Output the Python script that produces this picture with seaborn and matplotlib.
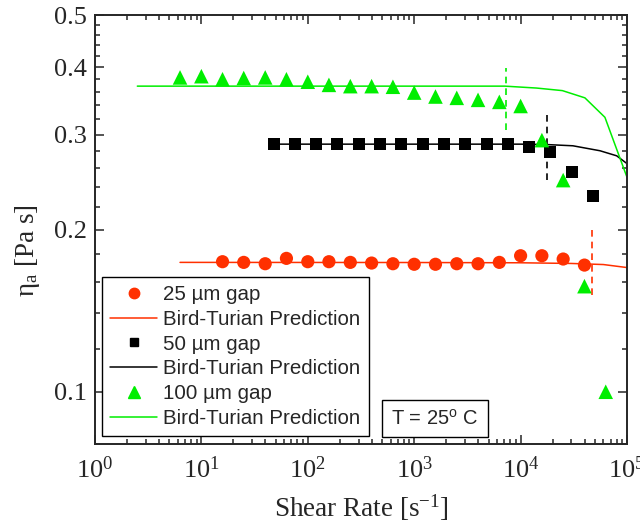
import numpy as np
import matplotlib
matplotlib.use("Agg")
import matplotlib.pyplot as plt
import seaborn as sns
from matplotlib.lines import Line2D
from matplotlib.ticker import FixedLocator, NullFormatter, LogLocator

red_x = [15.8, 25, 39.8, 63, 100, 158, 251, 398, 631, 1000, 1585, 2512,
         3981, 6310, 10000, 15850, 25120, 39810]
red_y = [0.1743, 0.1738, 0.1728, 0.1768, 0.1743, 0.1743, 0.1738, 0.1733,
         0.1728, 0.1724, 0.1724, 0.1728, 0.1728, 0.1738, 0.1788, 0.1788,
         0.1763, 0.1718]

black_x = [48, 76, 120, 190, 302, 479, 759, 1202, 1905, 3020, 4786, 7586,
           12023, 19055, 30200, 47860]
black_y = [0.288, 0.288, 0.288, 0.288, 0.288, 0.288, 0.288, 0.288, 0.288,
           0.288, 0.288, 0.288, 0.285, 0.278, 0.256, 0.231]

green_x = [6.3, 10, 15.8, 25, 39.8, 63, 100, 158, 251, 398, 631, 1000, 1585,
           2512, 3981, 6310, 10000, 15850, 25120, 39810, 63100]
green_y = [0.383, 0.385, 0.380, 0.382, 0.383, 0.380, 0.376, 0.371, 0.369,
           0.369, 0.368, 0.359, 0.353, 0.351, 0.348, 0.345, 0.339, 0.293,
           0.247, 0.157, 0.100]

# Bird-Turian predictions
red_line_x = [6.3, 1000, 10000, 30000, 60000, 100000]
red_line_y = [0.1738, 0.1737, 0.1735, 0.1730, 0.1722, 0.1700]
black_line_x = [48, 1000, 10000, 17600, 31000, 55700, 80000, 100000]
black_line_y = [0.288, 0.288, 0.288, 0.2875, 0.286, 0.280, 0.274, 0.265]
green_line_x = [2.5, 100, 1000, 7100, 14100, 24700, 40200, 62000, 100000]
green_line_y = [0.369, 0.369, 0.369, 0.369, 0.366, 0.362, 0.351, 0.323, 0.250]

# critical shear rate markers (dashed verticals)
red_crit_x, red_crit_y = [47200, 47200], [0.151, 0.200]
black_crit_x, black_crit_y = [17800, 17800], [0.247, 0.326]
green_crit_x, green_crit_y = [7240, 7240], [0.306, 0.398]

labels = ['25 \u00b5m gap', 'Bird-Turian Prediction', '50 \u00b5m gap',
          'Bird-Turian Prediction', '100 \u00b5m gap', 'Bird-Turian Prediction']

RED = '#ff3000'
GREEN = '#00ee00'
BLACK = '#000000'

sns.set_style("ticks")
plt.rcParams['font.family'] = ['Liberation Serif', 'DejaVu Serif']
plt.rcParams['mathtext.fontset'] = 'custom'
plt.rcParams['mathtext.rm'] = 'Liberation Serif'
plt.rcParams['mathtext.it'] = 'Liberation Serif:italic'

fig = plt.figure(figsize=(6.4, 5.27), dpi=100)
ax = fig.add_axes([0.1484, 0.1575, 0.8313, 0.814])
ax.set_xscale('log')
ax.set_yscale('log')

# prediction lines
sns.lineplot(x=red_line_x, y=red_line_y, ax=ax, color=RED, lw=1.1, zorder=2)
sns.lineplot(x=black_line_x, y=black_line_y, ax=ax, color=BLACK, lw=1.1, zorder=2)
sns.lineplot(x=green_line_x, y=green_line_y, ax=ax, color=GREEN, lw=1.1, zorder=2)

# dashed critical lines
ax.plot(red_crit_x, red_crit_y, color=RED, ls=(0, (4, 3)), lw=1.2)
ax.plot(black_crit_x, black_crit_y, color=BLACK, ls=(0, (4, 3)), lw=1.2)
ax.plot(green_crit_x, green_crit_y, color=GREEN, ls=(0, (4, 3)), lw=1.2)

# measured points
sns.scatterplot(x=red_x, y=red_y, ax=ax, marker='o', color=RED, s=90,
                edgecolor='none', zorder=3)
sns.scatterplot(x=black_x, y=black_y, ax=ax, marker='s', color=BLACK, s=75,
                edgecolor='none', zorder=3)
sns.scatterplot(x=green_x, y=green_y, ax=ax, marker='^', color=GREEN, s=110,
                edgecolor='none', zorder=3)

ax.set_xlim(1, 1e5)
ax.set_ylim(0.08, 0.5)

ax.yaxis.set_major_locator(FixedLocator([0.1, 0.2, 0.3, 0.4, 0.5]))
ax.yaxis.set_minor_locator(FixedLocator(np.round(np.arange(0.08, 0.5, 0.02), 2)))
ax.yaxis.set_minor_formatter(NullFormatter())
ax.set_yticklabels(['0.1', '0.2', '0.3', '0.4', '0.5'])
ax.xaxis.set_major_locator(LogLocator(base=10, numticks=10))
ax.xaxis.set_minor_locator(LogLocator(base=10, subs=np.arange(2, 10), numticks=20))
ax.xaxis.set_minor_formatter(NullFormatter())

ax.tick_params(which='both', direction='in', top=True, right=True,
               labelsize=19, width=1.1)
ax.tick_params(which='major', length=6.5)
ax.tick_params(axis='x', which='major', pad=9)
ax.tick_params(axis='y', which='major', pad=6)
ax.tick_params(which='minor', length=3.5)
for sp in ax.spines.values():
    sp.set_linewidth(1.4)

ax.set_xlabel('Shear Rate [s$^{\\mathregular{-1}}$]', fontsize=19.5)
ax.xaxis.set_label_coords(0.5, -0.112)
ax.set_ylabel('$\\mathregular{\\eta_a}$ [Pa s]', fontsize=19.5, va='center')
ax.yaxis.set_label_coords(-0.127, 0.45)

# legend
handles = [
    Line2D([], [], marker='o', color=RED, ls='none', markersize=7.5),
    Line2D([], [], color=RED, lw=1.1),
    Line2D([], [], marker='s', color=BLACK, ls='none', markersize=6),
    Line2D([], [], color=BLACK, lw=1.1),
    Line2D([], [], marker='^', color=GREEN, ls='none', markersize=8),
    Line2D([], [], color=GREEN, lw=1.1),
]
leg = ax.legend(handles, labels, loc='lower left', bbox_to_anchor=(0.0126, 0.0186),
                borderaxespad=0, fancybox=False, framealpha=1, edgecolor='black',
                prop={'family': 'Liberation Sans', 'size': 14.8},
                handlelength=2.3, labelspacing=0.28, handletextpad=0.3,
                borderpad=0.4)
leg.get_frame().set_linewidth(1.0)

ax.text(0.639, 0.059, 'T = 25$^{\\mathregular{o}}$ C', transform=ax.transAxes,
        ha='center', va='center', fontsize=14.5, family='Liberation Sans',
        bbox=dict(boxstyle='square,pad=0.45', fc='white', ec='black', lw=1.0))

fig.savefig('out.png', dpi=100)
